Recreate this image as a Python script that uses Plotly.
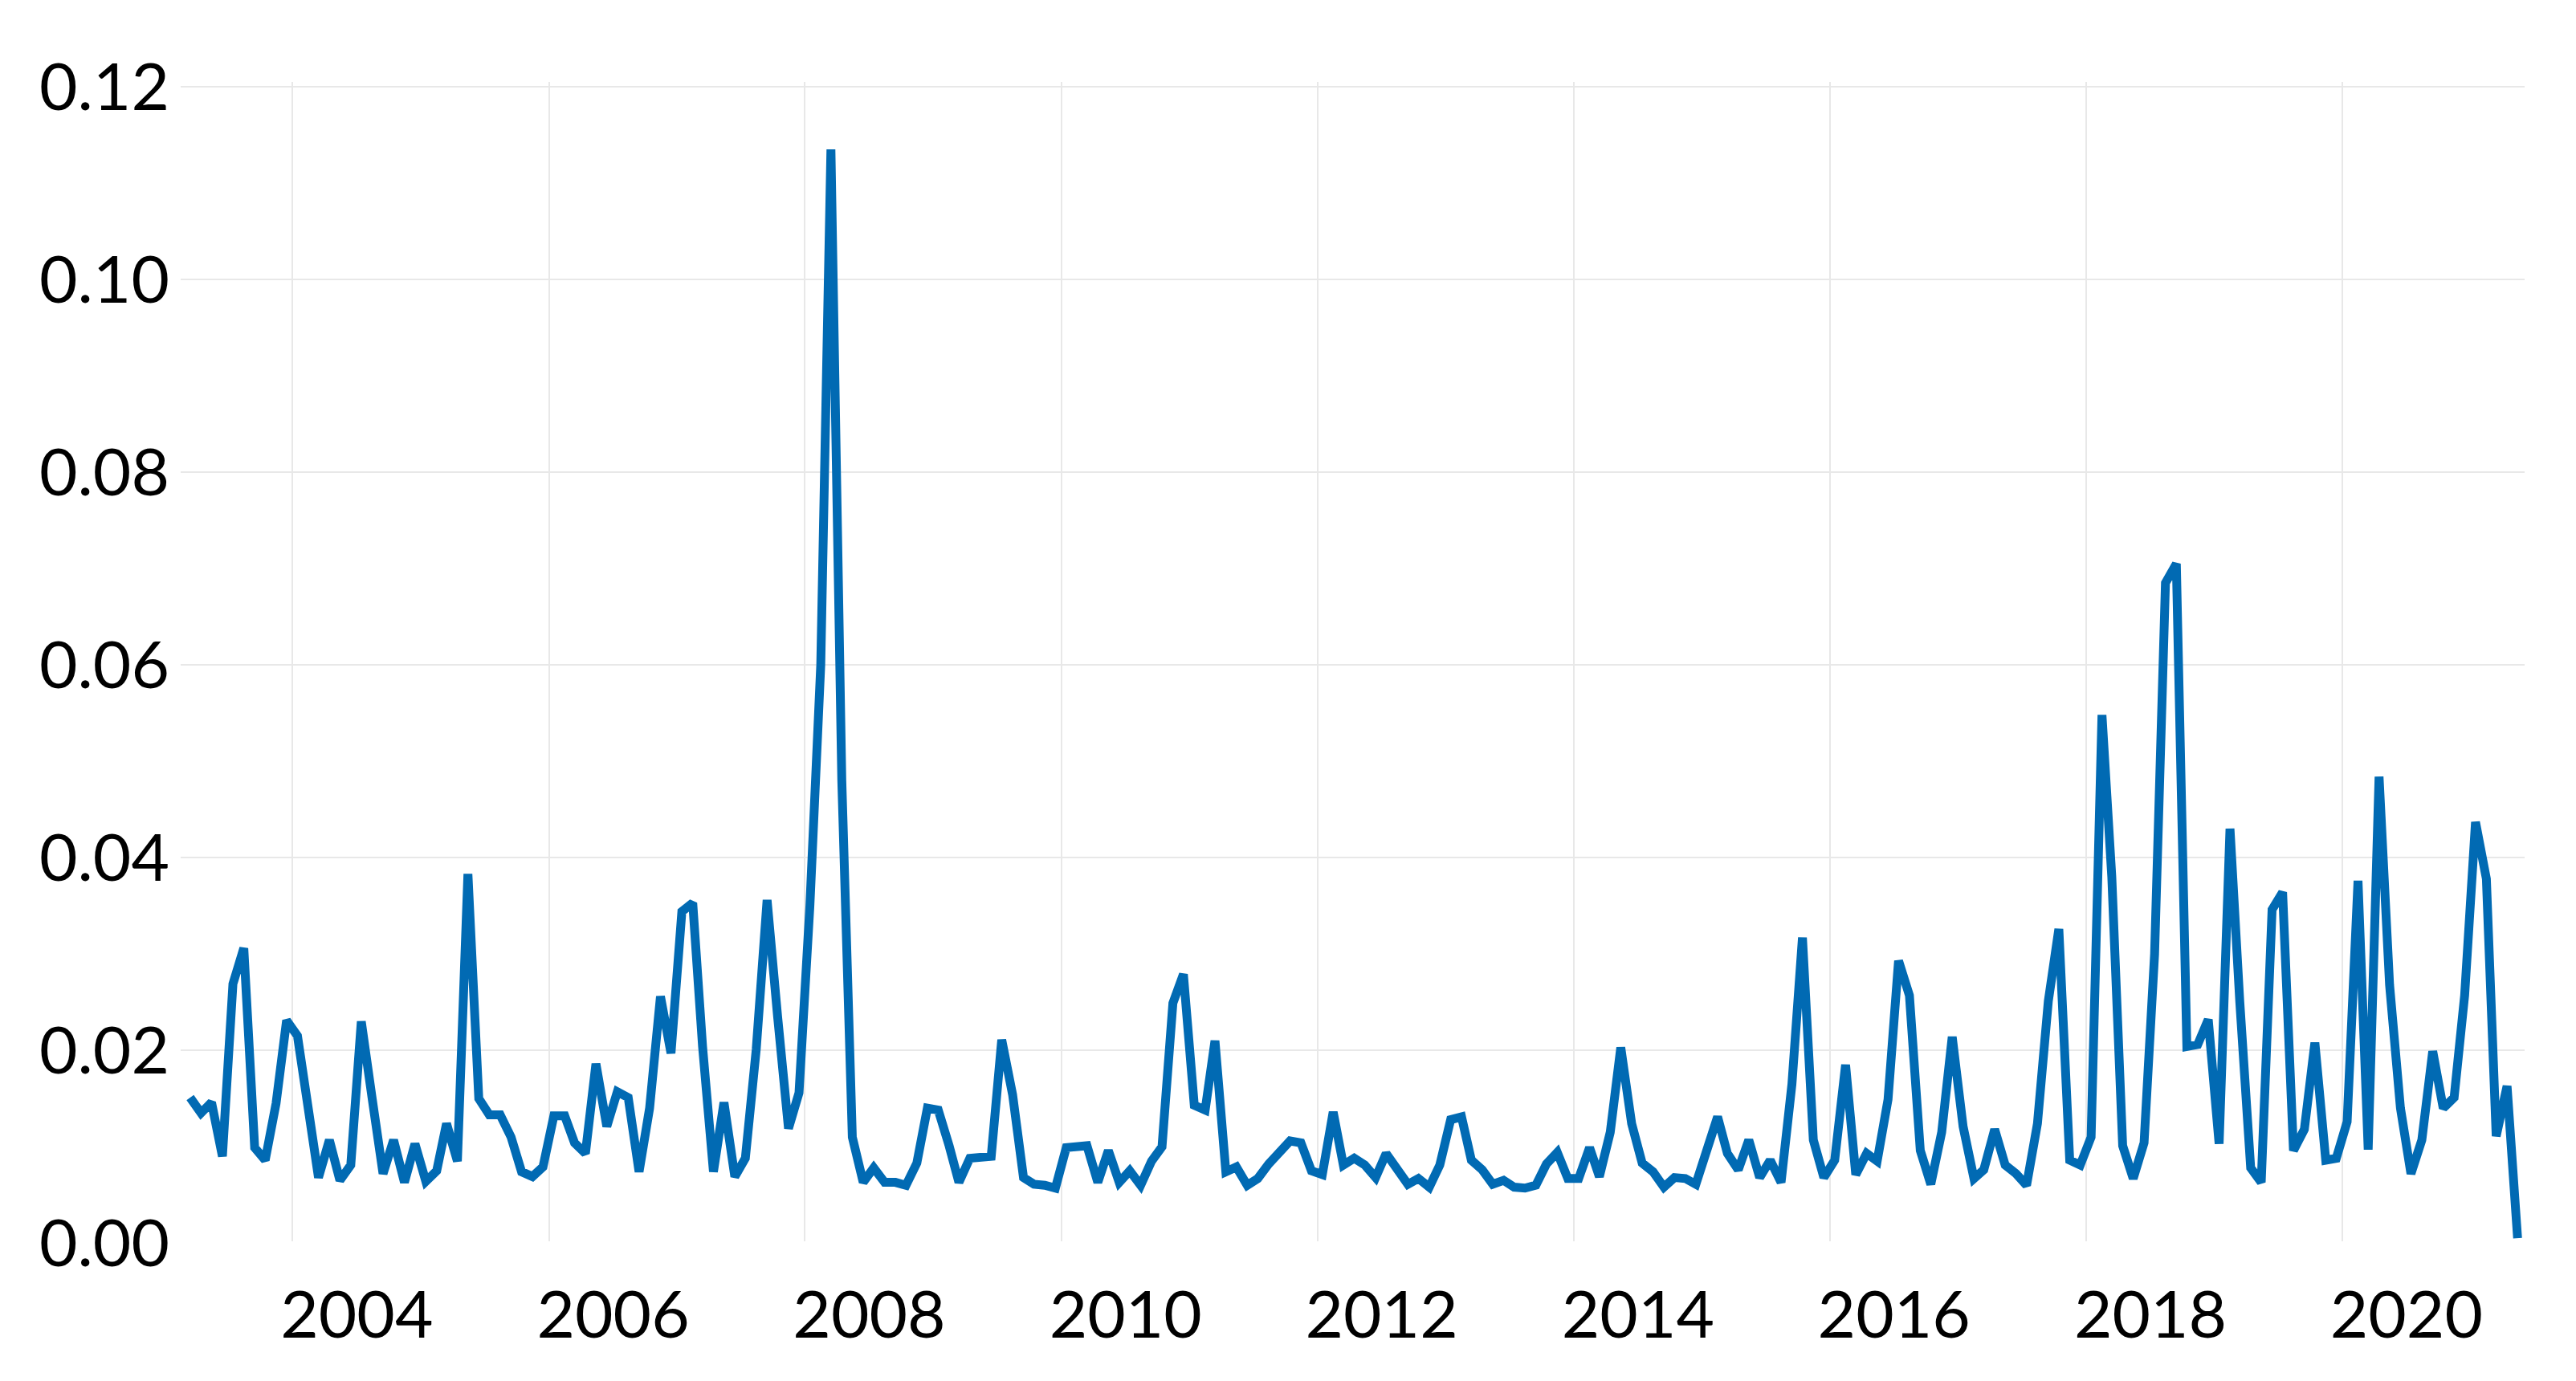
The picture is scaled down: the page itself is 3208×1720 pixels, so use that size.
import pandas as pd
import plotly.graph_objects as go

# monthly observations (mid-month), Mar 2003 .. May 2021
start_month = "2003-03-01"
values = [
    0.0151, 0.0135, 0.0146, 0.0090, 0.0269, 0.0306, 0.0099, 0.0086, 0.0145, 0.0231,
    0.0215, 0.0138, 0.0068, 0.0107, 0.0065, 0.0081, 0.0230, 0.0150, 0.0072, 0.0107,
    0.0063, 0.0103, 0.0064, 0.0075, 0.0124, 0.0085, 0.0383, 0.0150, 0.0133, 0.0133,
    0.0110, 0.0074, 0.0069, 0.0079, 0.0132, 0.0132, 0.0104, 0.0093, 0.0186, 0.0121,
    0.0157, 0.0151, 0.0074, 0.0140, 0.0256, 0.0197, 0.0344, 0.0353, 0.0204, 0.0074,
    0.0146, 0.0069, 0.0088, 0.0201, 0.0356, 0.0235, 0.0119, 0.0156, 0.0350, 0.0600,
    0.1135, 0.0480, 0.0110, 0.0063, 0.0078, 0.0063, 0.0063, 0.0060, 0.0083, 0.0140,
    0.0138, 0.0101, 0.0063, 0.0088, 0.0090, 0.0090, 0.0211, 0.0154, 0.0068, 0.0061,
    0.0060, 0.0057, 0.0099, 0.0101, 0.0101, 0.0063, 0.0096, 0.0063, 0.0075, 0.0060,
    0.0085, 0.0100, 0.0249, 0.0279, 0.0143, 0.0138, 0.0210, 0.0074, 0.0079, 0.0060,
    0.0067, 0.0082, 0.0093, 0.0106, 0.0104, 0.0075, 0.0071, 0.0136, 0.0081, 0.0088,
    0.0081, 0.0068, 0.0093, 0.0076, 0.0061, 0.0067, 0.0058, 0.0081, 0.0128, 0.0131,
    0.0086, 0.0076, 0.0061, 0.0065, 0.0058, 0.0057, 0.0060, 0.0082, 0.0094, 0.0067,
    0.0067, 0.0099, 0.0069, 0.0115, 0.0203, 0.0124, 0.0083, 0.0074, 0.0058, 0.0068,
    0.0067, 0.0061, 0.0096, 0.0131, 0.0093, 0.0076, 0.0107, 0.0068, 0.0086, 0.0063,
    0.0165, 0.0317, 0.0107, 0.0068, 0.0086, 0.0185, 0.0071, 0.0093, 0.0085, 0.0149,
    0.0293, 0.0257, 0.0096, 0.0061, 0.0115, 0.0214, 0.0121, 0.0067, 0.0076, 0.0118,
    0.0081, 0.0072, 0.0060, 0.0124, 0.0251, 0.0326, 0.0086, 0.0081, 0.0110, 0.0548,
    0.0380, 0.0101, 0.0067, 0.0104, 0.0300, 0.0685, 0.0705, 0.0204, 0.0206, 0.0232,
    0.0103, 0.0430, 0.0250, 0.0078, 0.0063, 0.0346, 0.0364, 0.0096, 0.0118, 0.0208,
    0.0086, 0.0088, 0.0126, 0.0376, 0.0097, 0.0484, 0.0268, 0.0140, 0.0072, 0.0107,
    0.0199, 0.0140, 0.0151, 0.0257, 0.0437, 0.0378, 0.0111, 0.0163, 0.0005,
]
dates = pd.date_range(start_month, periods=len(values), freq="MS") + pd.Timedelta(days=14)

year_ticks = [f"{y}-01-01" for y in range(2004, 2021, 2)]
year_labels = [str(y) for y in range(2004, 2021, 2)]
y_ticks = [0.00, 0.02, 0.04, 0.06, 0.08, 0.10, 0.12]

fig = go.Figure()
fig.add_trace(go.Scatter(
    x=dates,
    y=values,
    mode="lines",
    line=dict(color="#016AB3", width=11),
    showlegend=False,
))

# page body adds an 8px offset, margins compensate for it
fig.update_layout(
    template="plotly_white",
    width=3208,
    height=1720,
    margin=dict(l=217, r=72, t=94, b=178),
    font=dict(family="Lato, Carlito, sans-serif", size=82, color="black"),
    paper_bgcolor="white",
    plot_bgcolor="white",
)

fig.update_xaxes(
    range=["2003-02-16", "2021-06-04"],
    tickvals=year_ticks,
    ticktext=year_labels,
    ticklabelshift=80,
    ticklabelstandoff=33,
    showgrid=True,
    gridcolor="#E8E8E8",
    gridwidth=2,
    zeroline=False,
    showline=False,
)

fig.update_yaxes(
    range=[-0.00015, 0.1205],
    tickvals=y_ticks,
    tickformat=".2f",
    ticklabelstandoff=13,
    showgrid=True,
    gridcolor="#E8E8E8",
    gridwidth=2,
    zeroline=True,
    zerolinecolor="white",
    zerolinewidth=4,
    showline=False,
)

fig.write_html("out.html")
